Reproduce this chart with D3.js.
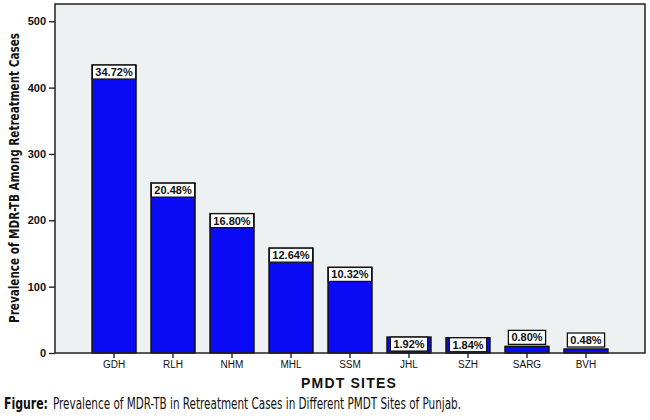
<!DOCTYPE html>
<html>
<head>
<meta charset="utf-8">
<script src="https://cdn.jsdelivr.net/npm/d3@7"></script>
<style>
  body { margin: 0; background: #fff; }
  svg { display: block; }
</style>
</head>
<body>
<svg class="bar-chart" width="650" height="420"></svg>
<script>
// chart values
var sites = ['GDH', 'RLH', 'NHM', 'MHL', 'SSM', 'JHL', 'SZH', 'SARG', 'BVH'];
var cases = [434, 256, 210, 158, 129, 24, 23, 10, 6];
var percentLabels = ['34.72%', '20.48%', '16.80%', '12.64%', '10.32%', '1.92%', '1.84%', '0.80%', '0.48%'];
var yTicks = [0, 100, 200, 300, 400, 500];

var svg = d3.select('svg.bar-chart');

var svgWidth = +svg.attr('width');
var svgHeight = +svg.attr('height');

var padding = {t: 4, r: 5, b: 67, l: 55};

var chartWidth = svgWidth - padding.l - padding.r;
var chartHeight = svgHeight - padding.t - padding.b;

var sansFont = '"Liberation Sans", Arial, sans-serif';
var narrowFont = '"Liberation Sans Narrow", "DejaVu Sans Condensed", "Liberation Sans", sans-serif';

var xScale = d3.scaleBand()
  .domain(sites)
  .range([0, chartWidth])
  .paddingInner(0.255)
  .paddingOuter(0.628);

var yScale = d3.scaleLinear().range([chartHeight, 0]).domain([0, 526]);

var chartG = svg.append('g')
  .attr('transform', 'translate(' + [padding.l, padding.t] + ')');

// plot background
chartG.append('rect')
  .attr('width', chartWidth)
  .attr('height', chartHeight)
  .attr('fill', '#eef1f1');

// bars
var barG = chartG.selectAll('.bar')
  .data(sites)
  .enter()
  .append('g')
  .attr('class', 'bar');

barG.append('rect')
  .attr('x', function(d) { return xScale(d); })
  .attr('y', function(d, i) { return yScale(cases[i]); })
  .attr('width', xScale.bandwidth())
  .attr('height', function(d, i) { return chartHeight - yScale(cases[i]); })
  .attr('fill', '#0a0af5')
  .attr('stroke', '#111')
  .attr('stroke-width', 1.5);

// percent labels in white boxes
var boxH = 14;
barG.each(function(d, i) {
  var g = d3.select(this);
  var barTop = yScale(cases[i]);
  var barH = chartHeight - barTop;
  var cx = xScale(d) + xScale.bandwidth() / 2;
  var boxTop = barH > boxH ? barTop : barTop - boxH - 2;

  var box = g.append('rect')
    .attr('y', boxTop)
    .attr('height', boxH)
    .attr('fill', '#fff')
    .attr('stroke', '#111')
    .attr('stroke-width', 1.3);

  var txt = g.append('text')
    .attr('x', cx)
    .attr('y', boxTop + boxH - 3)
    .attr('text-anchor', 'middle')
    .style('font-family', sansFont)
    .style('font-size', '11px')
    .style('font-weight', 'bold')
    .attr('fill', '#111')
    .text(percentLabels[i]);

  var w = Math.min(txt.node().getComputedTextLength() + 6, xScale.bandwidth());
  box.attr('x', cx - w / 2).attr('width', w);
});

// y axis
var yAxisG = chartG.append('g')
  .call(d3.axisLeft(yScale).tickValues(yTicks).tickSize(6).tickPadding(3));
yAxisG.select('.domain').remove();
yAxisG.selectAll('line').attr('stroke', '#111').attr('stroke-width', 1.3);
yAxisG.selectAll('text')
  .style('font-family', sansFont)
  .style('font-size', '11px')
  .style('font-weight', 'bold')
  .attr('fill', '#111');

// x axis
var xAxisG = chartG.append('g')
  .attr('transform', 'translate(0,' + chartHeight + ')')
  .call(d3.axisBottom(xScale).tickSize(5).tickPadding(3));
xAxisG.select('.domain').remove();
xAxisG.selectAll('line').attr('stroke', '#111').attr('stroke-width', 1.3);
xAxisG.selectAll('text')
  .style('font-family', sansFont)
  .style('font-size', '10px')
  .attr('fill', '#111');

// plot frame
chartG.append('rect')
  .attr('width', chartWidth)
  .attr('height', chartHeight)
  .attr('fill', 'none')
  .attr('stroke', '#222')
  .attr('stroke-width', 1.5);

// axis titles
svg.append('text')
  .attr('x', padding.l + chartWidth / 2 - 1)
  .attr('y', 388)
  .attr('text-anchor', 'middle')
  .style('font-family', sansFont)
  .style('font-size', '14px')
  .style('font-weight', 'bold')
  .style('letter-spacing', '1.2px')
  .attr('fill', '#111')
  .text('PMDT SITES');

svg.append('text')
  .attr('transform', 'translate(18.5,178) rotate(-90)')
  .attr('text-anchor', 'middle')
  .attr('textLength', 290)
  .attr('lengthAdjust', 'spacingAndGlyphs')
  .style('font-family', narrowFont)
  .style('font-size', '14.5px')
  .style('font-weight', 'bold')
  .attr('fill', '#111')
  .text('Prevalence of MDR-TB Among Retreatment Cases');

// caption
svg.append('text')
  .attr('x', 4)
  .attr('y', 409)
  .attr('textLength', 44)
  .attr('lengthAdjust', 'spacingAndGlyphs')
  .style('font-family', narrowFont)
  .style('font-size', '15px')
  .style('font-weight', 'bold')
  .attr('fill', '#111')
  .text('Figure:');

svg.append('text')
  .attr('x', 53)
  .attr('y', 409)
  .attr('textLength', 408)
  .attr('lengthAdjust', 'spacingAndGlyphs')
  .style('font-family', narrowFont)
  .style('font-size', '15px')
  .attr('fill', '#111')
  .text('Prevalence of MDR-TB in Retreatment Cases in Different PMDT Sites of Punjab.');
</script>
</body>
</html>
